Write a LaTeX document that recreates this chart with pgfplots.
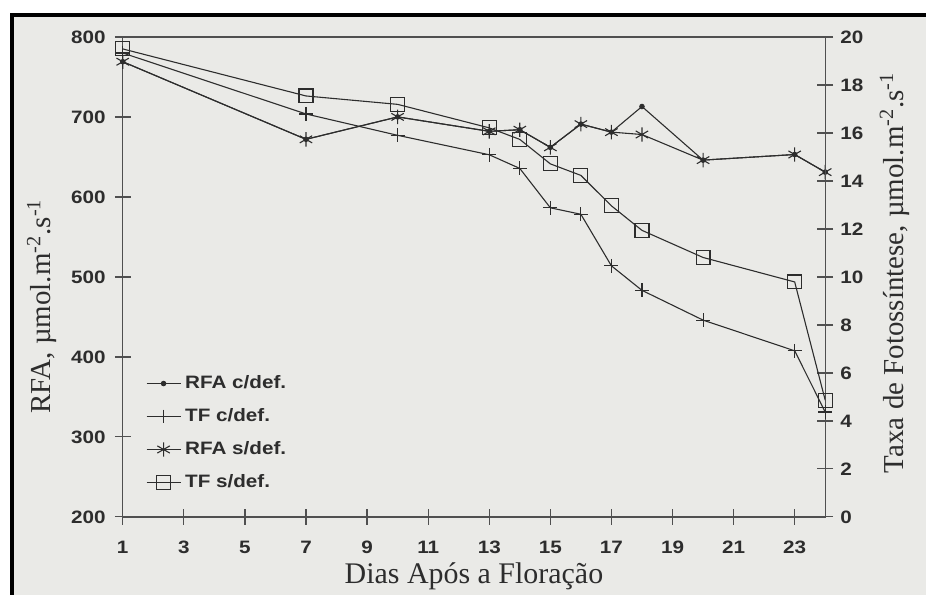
\documentclass[border=0pt]{standalone}
\usepackage{fontspec}
\setmainfont{Liberation Serif}
\setsansfont{Liberation Sans}
\newfontfamily\tickfont[FakeStretch=1.15]{Liberation Sans}
\usepackage{pgfplots}
\usepackage{pgfplotstable}
\pgfplotsset{compat=1.18}

\definecolor{bg}{RGB}{234,234,231}
\definecolor{ink}{RGB}{45,45,45}
\definecolor{axc}{RGB}{80,80,80}

\pgfplotstableread{
day val
1 769
7 672
10 700
13 682
14 684
15 662
16 691
17 681
18 713
20 646
23 653
24 631
}\rfacdef
\pgfplotstableread{
day val
1 769
7 672
10 700
13 682
14 684
15 662
16 691
17 681
18 678
20 646
23 653
24 631
}\rfasdef
\pgfplotstableread{
day val
1 19.33
7 16.79
10 15.90
13 15.09
14 14.52
15 12.88
16 12.61
17 10.46
18 9.44
20 8.20
23 6.92
24 4.37
}\tfcdef
\pgfplotstableread{
day val
1 19.50
7 17.54
10 17.19
13 16.21
14 15.73
15 14.71
16 14.23
17 12.96
18 11.94
20 10.81
23 9.79
24 4.86
}\tfsdef

\pgfplotsset{
  common/.style={
    at={(0pt,0pt)}, anchor=south west,
    scale only axis, width=352pt, height=240.5pt,
    xmin=1, xmax=24,
    axis line style={axc, line width=0.7pt},
    tick style={axc, line width=0.6pt},
    tick align=center, major tick length=8pt,
    tick label style={font=\tickfont\bfseries\fontsize{9}{10}\selectfont, text=ink},
    /pgf/number format/assume math mode=true,
  },
  ser/.style={ink, line width=0.55pt},
}

\begin{document}
\begin{tikzpicture}
\fill[white] (-61.5pt,-39pt) rectangle (402.5pt,259pt);
\fill[bg] (-55.5pt,-39pt) rectangle (402.5pt,251.5pt);
\draw[black, line width=2pt] (-55.5pt,-39pt) -- (-55.5pt,251.5pt) -- (402.5pt,251.5pt);

\begin{axis}[common,
  ymin=200, ymax=800,
  xtick={1,3,...,23}, ytick={200,300,...,800},
  xtick pos=bottom, ytick pos=left,
  xticklabel style={yshift=-4.5pt},
  yticklabel style={xshift=-1pt},
  xlabel={Dias Após a Floração},
  xlabel style={at={(axis description cs:0.5,0)}, anchor=center, yshift=-30pt, font=\fontsize{15}{15}\selectfont, text=ink},
  ylabel={RFA, µmol.m\textsuperscript{-2}.s\textsuperscript{-1}},
  ylabel style={at={(axis description cs:-0.115,0.439)}, anchor=center, font=\fontsize{14.5}{15}\selectfont, text=ink},
  legend style={at={(0.024,0.312)}, anchor=north west, draw=none, fill=none,
    font=\tickfont\bfseries\fontsize{9}{10}\selectfont, text=ink, row sep=4.5pt},
  legend cell align=left,
]
\addplot[ser, mark=*, mark size=1.1pt] table[x=day, y=val] {\rfacdef};
\addlegendentry{RFA c/def.}
\addlegendimage{ser, mark=+, mark size=3.5pt}
\addlegendentry{TF c/def.}
\addplot[ser, mark=asterisk, mark size=3.6pt] table[x=day, y=val] {\rfasdef};
\addlegendentry{RFA s/def.}
\addlegendimage{ser, mark=square, mark size=3.5pt, mark options={fill=none}}
\addlegendentry{TF s/def.}
\end{axis}

\begin{axis}[common,
  ymin=0, ymax=20,
  axis y line*=right, axis x line=none,
  ytick={0,2,...,20},
  ylabel={Taxa de Fotossíntese, µmol.m\textsuperscript{-2}.s\textsuperscript{-1}},
  ylabel style={at={(axis description cs:1.099,0.509)}, anchor=center, rotate=0, font=\fontsize{14.5}{15}\selectfont, text=ink},
]
\addplot[ser, mark=+, mark size=3.5pt] table[x=day, y=val] {\tfcdef};
\addplot[ser, mark=square, mark size=3.5pt, mark options={fill=none}] table[x=day, y=val] {\tfsdef};
\end{axis}
\end{tikzpicture}
\end{document}
